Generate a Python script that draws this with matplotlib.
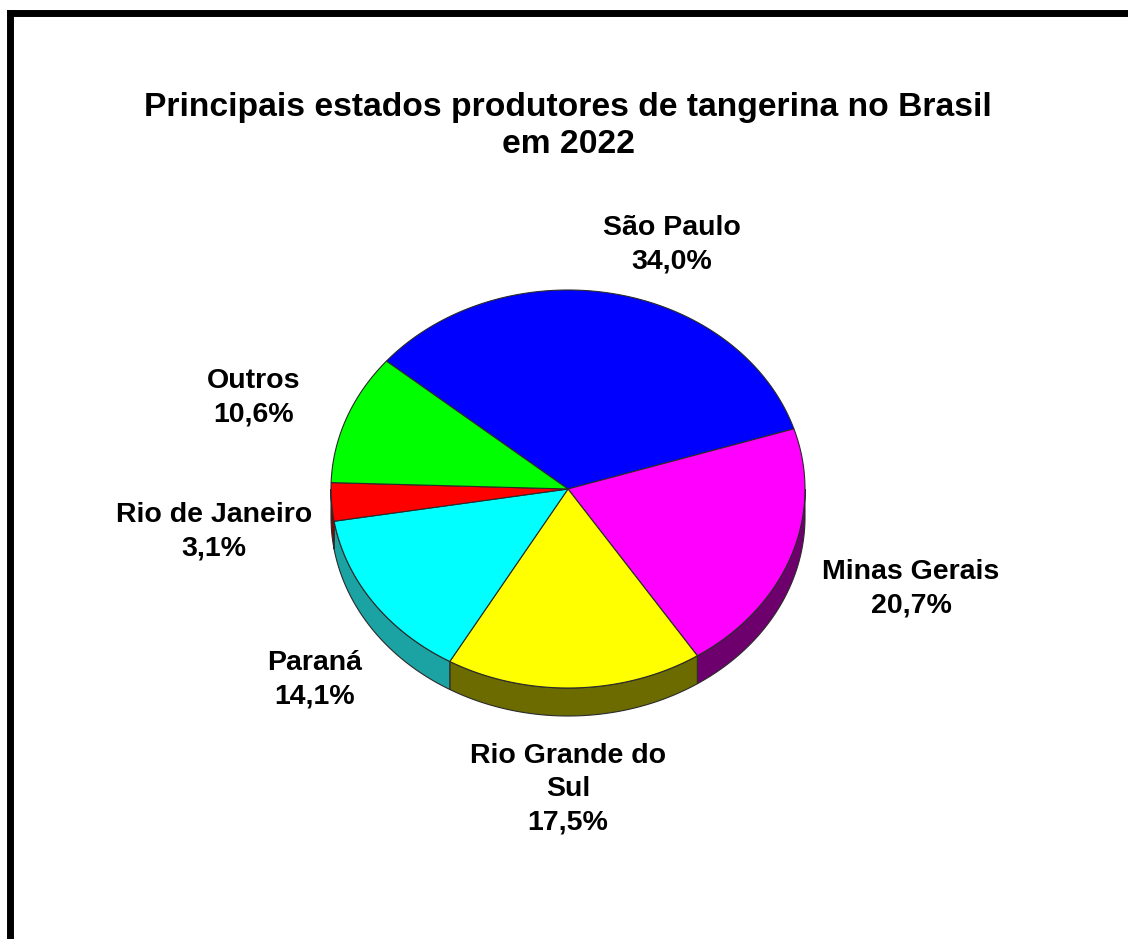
import numpy as np
import matplotlib
matplotlib.use("Agg")
import matplotlib.pyplot as plt
from matplotlib.patches import Polygon
from matplotlib.lines import Line2D

plt.rcParams['font.family'] = ['Liberation Sans', 'DejaVu Sans']

# data
states = ["São Paulo", "Minas Gerais", "Rio Grande do\nSul", "Paraná",
          "Rio de Janeiro", "Outros"]
shares = [34.0, 20.7, 17.5, 14.1, 3.1, 10.6]
title = "Principais estados produtores de tangerina no Brasil\nem 2022"

top_colors = ["#0000ff", "#ff00ff", "#ffff00", "#00ffff", "#ff0000", "#00ff00"]
side_colors = ["#000080", "#6e006e", "#6b6b00", "#1ba3a3", "#8a0000", "#008000"]

# label centers in pixel space (Excel placed them by hand)
label_pos = [(672, 245), (911, 589), (568, 789), (315, 680), (214, 532), (254, 398)]

# geometry of the 3d pie (pixels)
cx, cy = 568, 489
rx, ry = 237, 199
depth = 28
start = 140.0


def arc(t0, t1, dy=0, n=120):
    t = np.radians(np.linspace(t0, t1, n))
    return np.column_stack([cx + rx * np.cos(t), cy - ry * np.sin(t) + dy])


fig = plt.figure(figsize=(11.28, 9.39), dpi=100)
ax = fig.add_axes([0, 0, 1, 1])
ax.set_xlim(0, 1128)
ax.set_ylim(939, 0)
ax.axis('off')

total = sum(shares)
bounds = []
a = start
for v in shares:
    b = a - 360.0 * v / total
    bounds.append((a, b))
    a = b

edge = "#2a2a2a"

# side walls (front half only)
for (a, b), sc in zip(bounds, side_colors):
    hi, lo = min(a, 0.0), max(b, -180.0)
    if hi <= lo:
        continue
    upper = arc(hi, lo)
    lower = arc(lo, hi, dy=depth)
    ax.add_patch(Polygon(np.vstack([upper, lower]), closed=True,
                         facecolor=sc, edgecolor=edge, lw=0.8, zorder=1))

# top faces
for (a, b), tc in zip(bounds, top_colors):
    pts = np.vstack([[cx, cy], arc(a, b)])
    ax.add_patch(Polygon(pts, closed=True, facecolor=tc, edgecolor=edge,
                         lw=0.8, zorder=2))

for name, v, (x, y) in zip(states, shares, label_pos):
    txt = f"{name}\n{v:.1f}%".replace(".", ",")
    ax.text(x, y, txt, ha="center", va="center", fontsize=20.5,
            fontweight="bold", linespacing=1.36, zorder=3)

ax.text(568, 126, title, ha="center", va="center", fontsize=24.2,
        fontweight="bold", linespacing=1.24)

# frame: only top and left edges fall inside the image
fig.add_artist(Line2D([10 / 1128, 1.0], [1 - 12.5 / 939, 1 - 12.5 / 939],
                      transform=fig.transFigure, color="black", lw=5,
                      solid_capstyle="projecting"))
fig.add_artist(Line2D([10 / 1128, 10 / 1128], [0.0, 1 - 12.5 / 939],
                      transform=fig.transFigure, color="black", lw=5,
                      solid_capstyle="projecting"))

fig.savefig("out.png", dpi=100, facecolor="white")
